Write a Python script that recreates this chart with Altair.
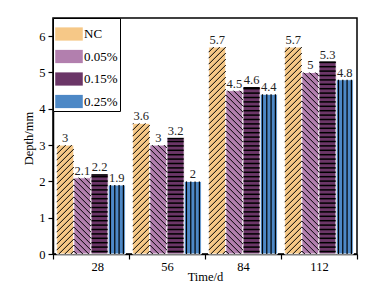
import altair as alt
import numpy as np
import pandas as pd

# ---- data ----
times = ["28", "56", "84", "112"]
series = ["NC", "0.05%", "0.15%", "0.25%"]
nc = [3.0, 3.6, 5.7, 5.7]
p005 = [2.1, 3.0, 4.5, 5.0]
p015 = [2.2, 3.2, 4.6, 5.3]
p025 = [1.9, 2.0, 4.4, 4.8]
labels = {"NC": ["3", "3.6", "5.7", "5.7"],
          "0.05%": ["2.1", "3", "4.5", "5"],
          "0.15%": ["2.2", "3.2", "4.6", "5.3"],
          "0.25%": ["1.9", "2", "4.4", "4.8"]}
y_ticks = [0, 1, 2, 3, 4, 5, 6]
colors = ["#F6C887", "#B27FAE", "#6B3667", "#4D88C6"]
patterns = ["fwd", "back", "horiz", "vert"]

# ---- layout constants ----
W, H = 304, 236
XMIN, XMAX = 0.5, 4.5
YMAX = 6.5
PX_X = W / (XMAX - XMIN)
PX_Y = H / YMAX
BAR_W = 0.226
FONT = "Liberation Serif"

values = [nc, p005, p015, p025]
rows = []
for k, s in enumerate(series):
    for i, t in enumerate(times):
        xl = (i + 1) - 2 * BAR_W + k * BAR_W
        rows.append(dict(time=t, series=s, value=values[k][i], x=xl, x2=xl + BAR_W,
                         xc=xl + BAR_W / 2, label=labels[s][i], pat=patterns[k]))
bars = pd.DataFrame(rows)

# hatch segments derived from bar geometry
segs = []
for r in rows:
    wb = BAR_W * PX_X
    hb = r["value"] * PX_Y
    xl = r["x"]
    if r["pat"] == "fwd":
        for c in np.arange(-wb + 3, hb, 6.0):
            p0, p1 = max(0.0, -c), min(wb, hb - c)
            if p1 > p0:
                segs.append((xl + p0 / PX_X, (p0 + c) / PX_Y, xl + p1 / PX_X, (p1 + c) / PX_Y, 1.0))
    elif r["pat"] == "back":
        for c in np.arange(3, hb + wb, 6.0):
            p0, p1 = max(0.0, c - hb), min(wb, c)
            if p1 > p0:
                segs.append((xl + p0 / PX_X, (c - p0) / PX_Y, xl + p1 / PX_X, (c - p1) / PX_Y, 1.0))
    elif r["pat"] == "horiz":
        for py in np.arange(2.5, hb - 0.5, 4.4):
            segs.append((xl + 0.5 / PX_X, py / PX_Y, xl + (wb - 0.5) / PX_X, py / PX_Y, 1.5))
        segs.append((xl + 0.5 / PX_X, (hb - 0.8) / PX_Y, xl + (wb - 0.5) / PX_X, (hb - 0.8) / PX_Y, 1.5))
    else:
        for px in np.arange(2.3, wb - 0.5, 4.3):
            segs.append((xl + px / PX_X, 0.0, xl + px / PX_X, hb / PX_Y, 1.2))
hatch = pd.DataFrame(segs, columns=["x", "y", "x2", "y2", "w"])

xscale = alt.Scale(domain=[XMIN, XMAX], nice=False, zero=False)
yscale = alt.Scale(domain=[0, YMAX], nice=False)

label_expr = ("datum.value == 0.5 ? '28' : datum.value == 1.5 ? '56' : "
              "datum.value == 2.5 ? '84' : datum.value == 3.5 ? '112' : ''")

x_axis = alt.Axis(
    title="Time/d", values=[0.5, 1.5, 2.5, 3.5, 4.5], labelExpr=label_expr,
    labelOffset=PX_X / 2, grid=False, titleX=W / 2, titleY=22,
    titleBaseline="middle", labelPadding=1, labelOverlap=False)
y_axis = alt.Axis(
    title="Depth/mm", values=y_ticks, grid=False,
    titleX=-25, titleY=H / 2 + 2, titleBaseline="middle", labelPadding=3,
    labelOverlap=False)

bar_layer = alt.Chart(bars).mark_rect(stroke="white", strokeWidth=1).encode(
    x=alt.X("x:Q", scale=xscale, axis=x_axis),
    x2="x2:Q",
    y=alt.Y("value:Q", scale=yscale, axis=y_axis),
    y2=alt.datum(0),
    color=alt.Color("series:N", scale=alt.Scale(domain=series, range=colors),
                    legend=alt.Legend(title=None, orient="top-left", offset=0,
                                      symbolType="M-1,-0.48H1V0.48H-1Z", symbolSize=760,
                                      symbolStrokeWidth=0, symbolOpacity=1,
                                      labelFont=FONT, labelFontSize=13, labelColor="black",
                                      labelOffset=1, rowPadding=1.5, padding=2,
                                      strokeColor="black", fillColor="white",
                                      labelLimit=60)),
)

hatch_layer = alt.Chart(hatch).mark_rule(color="black").encode(
    x=alt.X("x:Q", scale=xscale, axis=x_axis), x2="x2:Q",
    y=alt.Y("y:Q", scale=yscale, axis=y_axis), y2="y2:Q",
    strokeWidth=alt.StrokeWidth("w:Q", scale=None, legend=None),
)

text_layer = alt.Chart(bars).mark_text(
    font=FONT, fontSize=12.5, baseline="bottom", dy=0, color="#222222"
).encode(
    x=alt.X("xc:Q", scale=xscale, axis=x_axis),
    y=alt.Y("value:Q", scale=yscale, axis=y_axis),
    text="label:N"
)

chart = alt.layer(bar_layer, hatch_layer, text_layer).properties(
    width=W, height=H,
    autosize=alt.AutoSizeParams(type="none"),
    padding={"left": 53, "top": 18, "right": 24, "bottom": 41},
).configure_view(
    stroke="black", strokeWidth=1.5
).configure_axis(
    domainColor="black", domainWidth=1.5, tickColor="black", tickWidth=1.2, tickSize=5,
    labelFont=FONT, labelFontSize=12.5, labelColor="black", titleFont=FONT,
    titleFontSize=12.5, titleFontWeight="normal", titleColor="black"
)

chart.save("out.html", embed_options={"renderer": "svg", "actions": False})
